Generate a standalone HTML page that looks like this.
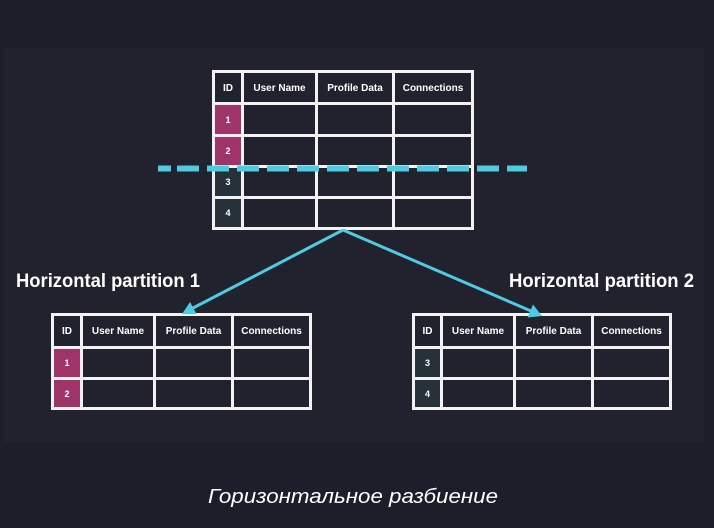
<!DOCTYPE html>
<html><head><meta charset="utf-8"><style>
html,body{margin:0;padding:0;background:#1d1e29;}
svg{display:block;}
text{font-family:"Liberation Sans",sans-serif;fill:#fff;}
</style></head><body>
<svg width="714" height="528" viewBox="0 0 714 528" xmlns="http://www.w3.org/2000/svg">
<rect x="0" y="0" width="714" height="528" fill="#1d1e29"/>
<rect x="4" y="48" width="700" height="394" fill="#21222d"/>

<!-- top table -->
<rect x="212" y="70" width="262" height="160" fill="#f2f2f2"/>
<g fill="#21222d">
<rect x="215" y="73" width="26" height="29"/><rect x="244" y="73" width="71" height="29"/><rect x="318" y="73" width="74" height="29"/><rect x="395" y="73" width="76" height="29"/>
<rect x="215" y="105" width="26" height="29" fill="#9e3468"/><rect x="244" y="105" width="71" height="29"/><rect x="318" y="105" width="74" height="29"/><rect x="395" y="105" width="76" height="29"/>
<rect x="215" y="137" width="26" height="28" fill="#9e3468"/><rect x="244" y="137" width="71" height="28"/><rect x="318" y="137" width="74" height="28"/><rect x="395" y="137" width="76" height="28"/>
<rect x="215" y="168" width="26" height="28" fill="#263139"/><rect x="244" y="168" width="71" height="28"/><rect x="318" y="168" width="74" height="28"/><rect x="395" y="168" width="76" height="28"/>
<rect x="215" y="199" width="26" height="28" fill="#263139"/><rect x="244" y="199" width="71" height="28"/><rect x="318" y="199" width="74" height="28"/><rect x="395" y="199" width="76" height="28"/>
</g>
<g font-size="10" font-weight="bold" text-anchor="middle">
<text x="228" y="91">ID</text><text x="279.5" y="91">User Name</text><text x="355" y="91">Profile Data</text><text x="433" y="91">Connections</text>
</g>
<g font-size="9" font-weight="bold" text-anchor="middle">
<text x="228" y="123">1</text><text x="228" y="154">2</text><text x="228" y="185">3</text><text x="228" y="216">4</text>
</g>

<!-- dashed line -->
<line x1="158" y1="168.5" x2="171" y2="168.5" stroke="#4ecbe0" stroke-width="6"/>
<line x1="177" y1="168.5" x2="527" y2="168.5" stroke="#4ecbe0" stroke-width="6" stroke-dasharray="22 8"/>

<!-- labels -->
<text x="16" y="287" font-size="19" font-weight="bold" textLength="184" lengthAdjust="spacingAndGlyphs">Horizontal partition 1</text>
<text x="509" y="287" font-size="19" font-weight="bold" textLength="185" lengthAdjust="spacingAndGlyphs">Horizontal partition 2</text>

<!-- partition 1 -->
<rect x="51" y="313" width="261" height="97" fill="#f2f2f2"/>
<g fill="#21222d">
<rect x="54" y="316" width="26" height="30"/><rect x="83" y="316" width="70" height="30"/><rect x="156" y="316" width="75" height="30"/><rect x="234" y="316" width="75" height="30"/>
<rect x="54" y="349" width="26" height="28" fill="#9e3468"/><rect x="83" y="349" width="70" height="28"/><rect x="156" y="349" width="75" height="28"/><rect x="234" y="349" width="75" height="28"/>
<rect x="54" y="380" width="26" height="27" fill="#9e3468"/><rect x="83" y="380" width="70" height="27"/><rect x="156" y="380" width="75" height="27"/><rect x="234" y="380" width="75" height="27"/>
</g>
<g font-size="10" font-weight="bold" text-anchor="middle">
<text x="67" y="334">ID</text><text x="118" y="334">User Name</text><text x="193.5" y="334">Profile Data</text><text x="271.5" y="334">Connections</text>
</g>
<g font-size="9" font-weight="bold" text-anchor="middle">
<text x="67" y="366">1</text><text x="67" y="397">2</text>
</g>

<!-- partition 2 -->
<rect x="412" y="313" width="260" height="97" fill="#f2f2f2"/>
<g fill="#21222d">
<rect x="415" y="316" width="25" height="30"/><rect x="443" y="316" width="70" height="30"/><rect x="516" y="316" width="75" height="30"/><rect x="594" y="316" width="75" height="30"/>
<rect x="415" y="349" width="25" height="28" fill="#263139"/><rect x="443" y="349" width="70" height="28"/><rect x="516" y="349" width="75" height="28"/><rect x="594" y="349" width="75" height="28"/>
<rect x="415" y="380" width="25" height="27" fill="#263139"/><rect x="443" y="380" width="70" height="27"/><rect x="516" y="380" width="75" height="27"/><rect x="594" y="380" width="75" height="27"/>
</g>
<g font-size="10" font-weight="bold" text-anchor="middle">
<text x="427.5" y="334">ID</text><text x="478" y="334">User Name</text><text x="553.5" y="334">Profile Data</text><text x="631.5" y="334">Connections</text>
</g>
<g font-size="9" font-weight="bold" text-anchor="middle">
<text x="427.5" y="366">3</text><text x="427.5" y="397">4</text>
</g>

<!-- connectors (on top) -->
<g stroke="#4ecbe0" stroke-width="3" fill="none">
<line x1="343" y1="230" x2="193" y2="308"/>
<line x1="343" y1="230" x2="531" y2="311"/>
</g>
<polygon points="182,314 196.5,314 190,302" fill="#4ecbe0"/>
<polygon points="542,316 527.5,317.5 533,304.5" fill="#4ecbe0"/>

<!-- caption -->
<text x="208" y="503" font-size="20" font-style="italic" textLength="290" lengthAdjust="spacingAndGlyphs">Горизонтальное разбиение</text>
</svg>
</body></html>
